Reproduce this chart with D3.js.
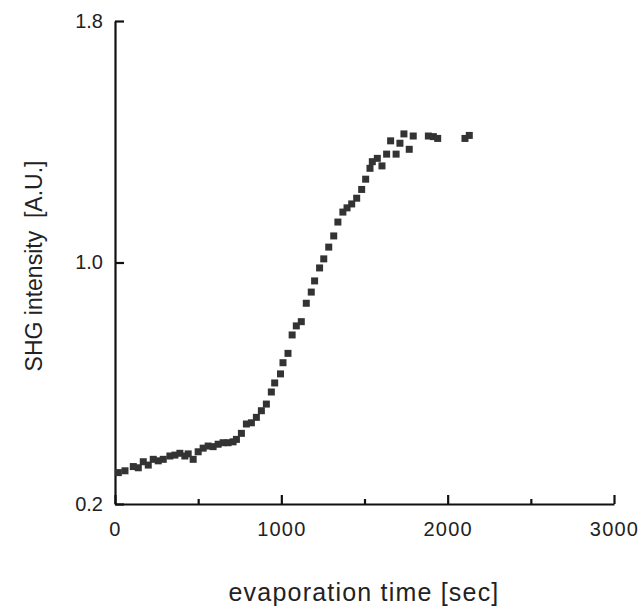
<!DOCTYPE html>
<html>
<head>
<meta charset="utf-8">
<script src="https://cdn.jsdelivr.net/npm/d3@7"></script>
<style>
  body { margin: 0; background: #fff; }
  text { font-family: "Liberation Sans", Arial, sans-serif; fill: #222; }
</style>
</head>
<body>
<div id="chart"></div>
<script>
// evaporation time [sec]
const times = [
  20, 60, 110, 140, 170, 200, 230, 260, 290, 330, 360, 390, 420, 440, 470,
  500, 530, 560, 590, 620, 650, 680, 710, 730, 760, 790, 820, 850, 880,
  910, 940, 960, 995, 1010, 1040, 1065, 1090, 1120, 1150, 1180, 1200, 1230,
  1255, 1285, 1315, 1340, 1370, 1395, 1423, 1453, 1483, 1507, 1533, 1547,
  1577, 1605, 1633, 1657, 1690, 1713, 1737, 1769, 1793, 1884, 1914, 1940,
  2104, 2130
];
// SHG intensity [A.U.]
const intensity = [
  0.304, 0.310, 0.324, 0.320, 0.340, 0.329, 0.348, 0.343, 0.348, 0.359, 0.362, 0.368, 0.359, 0.366, 0.348,
  0.373, 0.385, 0.392, 0.390, 0.398, 0.403, 0.403, 0.406, 0.414, 0.434, 0.465, 0.469, 0.487, 0.509,
  0.531, 0.571, 0.601, 0.631, 0.668, 0.699, 0.760, 0.790, 0.804, 0.865, 0.902, 0.939, 0.982,
  1.012, 1.051, 1.088, 1.134, 1.167, 1.181, 1.194, 1.213, 1.242, 1.276, 1.312, 1.334,
  1.345, 1.320, 1.359, 1.403, 1.359, 1.395, 1.426, 1.375, 1.419, 1.419, 1.417, 1.411,
  1.411, 1.421
];
const xTicks = [0, 1000, 2000, 3000];
const xMinorTicks = [500, 1500, 2500];
const yTicks = [0.2, 1.0, 1.8];

const width = 643, height = 609;
const margin = { left: 115, right: 29, top: 21, bottom: 105 };

const svg = d3.select("#chart").append("svg")
  .attr("width", width)
  .attr("height", height);

const x = d3.scaleLinear().domain([0, 3000]).range([margin.left, width - margin.right]);
const y = d3.scaleLinear().domain([0.2, 1.8]).range([height - margin.bottom, margin.top]);

const points = times.map((t, i) => ({ t: t, v: intensity[i] }));

// bottom axis, ticks pointing inward
const xAxis = svg.append("g")
  .attr("transform", `translate(0,${y(0.2)})`)
  .call(d3.axisBottom(x).tickValues(xTicks).tickSizeInner(-9).tickSizeOuter(0).tickPadding(18).tickFormat(d3.format("d")));
xAxis.selectAll(".tick text")
  .attr("font-size", 20)
  .attr("letter-spacing", "1.2px");

svg.append("g")
  .attr("transform", `translate(0,${y(0.2)})`)
  .call(d3.axisBottom(x).tickValues(xMinorTicks).tickSize(-5).tickFormat(""))
  .call((g) => g.select(".domain").remove());

// left axis, ticks pointing inward
const yAxis = svg.append("g")
  .attr("transform", `translate(${x(0)},0)`)
  .call(d3.axisLeft(y).tickValues(yTicks).tickSizeInner(-9).tickSizeOuter(0).tickPadding(12).tickFormat(d3.format(".1f")));
yAxis.selectAll(".tick text")
  .attr("font-size", 20);

svg.selectAll(".domain, .tick line")
  .attr("stroke", "#111")
  .attr("stroke-width", 2.2);

// data squares
const s = 7;
svg.append("g")
  .selectAll("rect")
  .data(points)
  .enter()
  .append("rect")
  .attr("x", (d) => x(d.t) - s / 2)
  .attr("y", (d) => y(d.v) - s / 2)
  .attr("width", s)
  .attr("height", s)
  .attr("fill", "#333");

// axis titles
svg.append("text")
  .attr("x", 364)
  .attr("y", 601)
  .attr("text-anchor", "middle")
  .attr("font-size", 25)
  .attr("letter-spacing", "1.2px")
  .text("evaporation time [sec]");

svg.append("text")
  .attr("transform", `translate(42,266) rotate(-90)`)
  .attr("text-anchor", "middle")
  .attr("font-size", 23)
  .attr("xml:space", "preserve")
  .text("SHG intensity  [A.U.]");
</script>
</body>
</html>
